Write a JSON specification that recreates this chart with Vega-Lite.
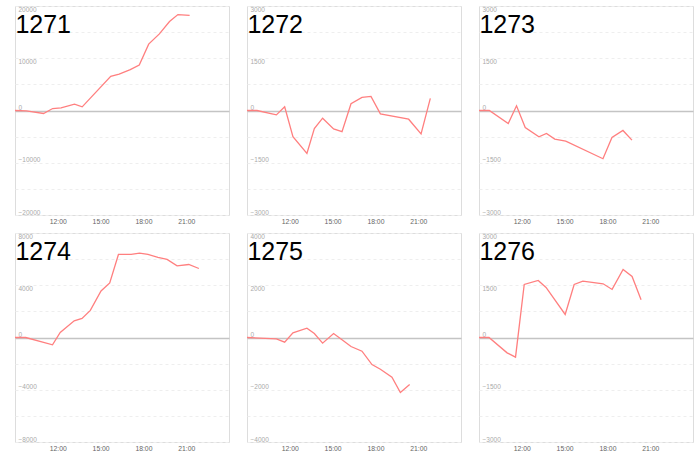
{
  "$schema": "https://vega.github.io/schema/vega-lite/v6.json",
  "padding": {"left": 11, "top": 5, "right": 5, "bottom": 2},
  "background": "white",
  "datasets": {
    "d": [
      {"id": "1271", "t": 9.0, "v": 0}, {"id": "1271", "t": 9.8, "v": -60}, {"id": "1271", "t": 11.0, "v": -570}, {"id": "1271", "t": 11.64, "v": 380}, {"id": "1271", "t": 12.23, "v": 510}, {"id": "1271", "t": 13.17, "v": 1200}, {"id": "1271", "t": 13.71, "v": 700}, {"id": "1271", "t": 15.71, "v": 6540}, {"id": "1271", "t": 16.3, "v": 6980}, {"id": "1271", "t": 17.08, "v": 7810}, {"id": "1271", "t": 17.71, "v": 8700}, {"id": "1271", "t": 18.37, "v": 12700}, {"id": "1271", "t": 19.12, "v": 14670}, {"id": "1271", "t": 19.83, "v": 17020}, {"id": "1271", "t": 20.42, "v": 18350}, {"id": "1271", "t": 21.24, "v": 18220},
      {"id": "1272", "t": 9.0, "v": 0}, {"id": "1272", "t": 9.7, "v": 0}, {"id": "1272", "t": 11.06, "v": -125}, {"id": "1272", "t": 11.64, "v": 106}, {"id": "1272", "t": 12.22, "v": -750}, {"id": "1272", "t": 13.2, "v": -1230}, {"id": "1272", "t": 13.72, "v": -520}, {"id": "1272", "t": 14.3, "v": -220}, {"id": "1272", "t": 15.07, "v": -530}, {"id": "1272", "t": 15.66, "v": -607}, {"id": "1272", "t": 16.29, "v": 193}, {"id": "1272", "t": 17.06, "v": 375}, {"id": "1272", "t": 17.69, "v": 404}, {"id": "1272", "t": 18.35, "v": -96}, {"id": "1272", "t": 20.33, "v": -250}, {"id": "1272", "t": 21.2, "v": -674}, {"id": "1272", "t": 21.85, "v": 347},
      {"id": "1273", "t": 9.0, "v": 0}, {"id": "1273", "t": 9.72, "v": 0}, {"id": "1273", "t": 11.05, "v": -372}, {"id": "1273", "t": 11.63, "v": 134}, {"id": "1273", "t": 12.24, "v": -487}, {"id": "1273", "t": 13.2, "v": -754}, {"id": "1273", "t": 13.73, "v": -659}, {"id": "1273", "t": 14.31, "v": -821}, {"id": "1273", "t": 15.08, "v": -879}, {"id": "1273", "t": 17.69, "v": -1385}, {"id": "1273", "t": 18.32, "v": -774}, {"id": "1273", "t": 19.09, "v": -573}, {"id": "1273", "t": 19.72, "v": -850},
      {"id": "1274", "t": 9.0, "v": 0}, {"id": "1274", "t": 9.75, "v": 0}, {"id": "1274", "t": 11.63, "v": -564}, {"id": "1274", "t": 12.17, "v": 385}, {"id": "1274", "t": 13.15, "v": 1282}, {"id": "1274", "t": 13.7, "v": 1461}, {"id": "1274", "t": 14.28, "v": 2077}, {"id": "1274", "t": 15.03, "v": 3564}, {"id": "1274", "t": 15.64, "v": 4179}, {"id": "1274", "t": 16.25, "v": 6359}, {"id": "1274", "t": 17.14, "v": 6359}, {"id": "1274", "t": 17.73, "v": 6461}, {"id": "1274", "t": 18.32, "v": 6359}, {"id": "1274", "t": 19.02, "v": 6128}, {"id": "1274", "t": 19.66, "v": 5974}, {"id": "1274", "t": 20.36, "v": 5487}, {"id": "1274", "t": 21.18, "v": 5590}, {"id": "1274", "t": 21.89, "v": 5282},
      {"id": "1275", "t": 9.0, "v": 0}, {"id": "1275", "t": 11.06, "v": -51}, {"id": "1275", "t": 11.64, "v": -179}, {"id": "1275", "t": 12.22, "v": 179}, {"id": "1275", "t": 13.2, "v": 358}, {"id": "1275", "t": 13.72, "v": 153}, {"id": "1275", "t": 14.3, "v": -217}, {"id": "1275", "t": 15.07, "v": 153}, {"id": "1275", "t": 15.66, "v": -89}, {"id": "1275", "t": 16.29, "v": -345}, {"id": "1275", "t": 17.06, "v": -524}, {"id": "1275", "t": 17.76, "v": -1035}, {"id": "1275", "t": 18.35, "v": -1214}, {"id": "1275", "t": 19.16, "v": -1521}, {"id": "1275", "t": 19.75, "v": -2109}, {"id": "1275", "t": 20.4, "v": -1802},
      {"id": "1276", "t": 9.0, "v": 0}, {"id": "1276", "t": 9.7, "v": 0}, {"id": "1276", "t": 10.97, "v": -441}, {"id": "1276", "t": 11.56, "v": -565}, {"id": "1276", "t": 12.17, "v": 1523}, {"id": "1276", "t": 13.15, "v": 1638}, {"id": "1276", "t": 13.7, "v": 1437}, {"id": "1276", "t": 15.04, "v": 661}, {"id": "1276", "t": 15.67, "v": 1523}, {"id": "1276", "t": 16.28, "v": 1619}, {"id": "1276", "t": 17.7, "v": 1542}, {"id": "1276", "t": 18.33, "v": 1380}, {"id": "1276", "t": 19.1, "v": 1954}, {"id": "1276", "t": 19.73, "v": 1753}, {"id": "1276", "t": 20.36, "v": 1083}
    ]
  },
  "data": {"name": "d"},
  "config": {
    "font": "Liberation Sans",
    "view": {"stroke": "#dddddd", "strokeWidth": 1},
    "title": {"anchor": "start", "offset": -32, "dx": 3, "fontSize": 25, "fontWeight": "normal", "color": "#000000", "font": "Liberation Sans", "baseline": "alphabetic"},
    "axisX": {"domain": false, "ticks": false, "grid": false, "labelFontSize": 6.8, "labelColor": "#666666", "labelPadding": 3, "title": null},
    "axisY": {
      "domain": false, "ticks": false, "tickSize": 0, "title": null,
      "labelAlign": "left", "labelPadding": -3, "labelFontSize": 6.5, "labelColor": "#aaaaaa",
      "labelOverlap": false, "labelFlush": false, "format": "d",
      "labelBaseline": {"condition": {"test": "datum.value > 0", "value": "top"}, "value": "bottom"},
      "gridColor": {"condition": {"test": "datum.value == 0", "value": "#c4c4c4"}, "value": "#eeeeee"},
      "gridDash": {"condition": {"test": "datum.value == 0", "value": []}, "value": [3, 3]},
      "gridWidth": {"condition": {"test": "datum.value == 0", "value": 1.6}, "value": 1}
    }
  },
  "columns": 3,
  "bounds": "flush",
  "spacing": {"row": 18, "column": 18},
  "concat": [
    {
      "width": 214, "height": 209, "title": "1271",
      "transform": [{"filter": "datum.id == '1271'"}],
      "mark": {"type": "line", "color": "#ff7f7f", "strokeWidth": 1.3},
      "encoding": {
        "x": {"field": "t", "type": "quantitative", "scale": {"domain": [9, 24]}, "axis": {"values": [12, 15, 18, 21], "labelExpr": "datum.value + ':00'"}},
        "y": {"field": "v", "type": "quantitative", "scale": {"domain": [-20000, 20000]}, "axis": {"values": [-20000, -15000, -10000, -5000, 0, 5000, 10000, 15000, 20000], "labelExpr": "datum.value % 10000 == 0 ? datum.label : ''"}}
      }
    },
    {
      "width": 214, "height": 209, "title": "1272",
      "transform": [{"filter": "datum.id == '1272'"}],
      "mark": {"type": "line", "color": "#ff7f7f", "strokeWidth": 1.3},
      "encoding": {
        "x": {"field": "t", "type": "quantitative", "scale": {"domain": [9, 24]}, "axis": {"values": [12, 15, 18, 21], "labelExpr": "datum.value + ':00'"}},
        "y": {"field": "v", "type": "quantitative", "scale": {"domain": [-3000, 3000]}, "axis": {"values": [-3000, -2250, -1500, -750, 0, 750, 1500, 2250, 3000], "labelExpr": "datum.value % 1500 == 0 ? datum.label : ''"}}
      }
    },
    {
      "width": 214, "height": 209, "title": "1273",
      "transform": [{"filter": "datum.id == '1273'"}],
      "mark": {"type": "line", "color": "#ff7f7f", "strokeWidth": 1.3},
      "encoding": {
        "x": {"field": "t", "type": "quantitative", "scale": {"domain": [9, 24]}, "axis": {"values": [12, 15, 18, 21], "labelExpr": "datum.value + ':00'"}},
        "y": {"field": "v", "type": "quantitative", "scale": {"domain": [-3000, 3000]}, "axis": {"values": [-3000, -2250, -1500, -750, 0, 750, 1500, 2250, 3000], "labelExpr": "datum.value % 1500 == 0 ? datum.label : ''"}}
      }
    },
    {
      "width": 214, "height": 209, "title": "1274",
      "transform": [{"filter": "datum.id == '1274'"}],
      "mark": {"type": "line", "color": "#ff7f7f", "strokeWidth": 1.3},
      "encoding": {
        "x": {"field": "t", "type": "quantitative", "scale": {"domain": [9, 24]}, "axis": {"values": [12, 15, 18, 21], "labelExpr": "datum.value + ':00'"}},
        "y": {"field": "v", "type": "quantitative", "scale": {"domain": [-8000, 8000]}, "axis": {"values": [-8000, -6000, -4000, -2000, 0, 2000, 4000, 6000, 8000], "labelExpr": "datum.value % 4000 == 0 ? datum.label : ''"}}
      }
    },
    {
      "width": 214, "height": 209, "title": "1275",
      "transform": [{"filter": "datum.id == '1275'"}],
      "mark": {"type": "line", "color": "#ff7f7f", "strokeWidth": 1.3},
      "encoding": {
        "x": {"field": "t", "type": "quantitative", "scale": {"domain": [9, 24]}, "axis": {"values": [12, 15, 18, 21], "labelExpr": "datum.value + ':00'"}},
        "y": {"field": "v", "type": "quantitative", "scale": {"domain": [-4000, 4000]}, "axis": {"values": [-4000, -3000, -2000, -1000, 0, 1000, 2000, 3000, 4000], "labelExpr": "datum.value % 2000 == 0 ? datum.label : ''"}}
      }
    },
    {
      "width": 214, "height": 209, "title": "1276",
      "transform": [{"filter": "datum.id == '1276'"}],
      "mark": {"type": "line", "color": "#ff7f7f", "strokeWidth": 1.3},
      "encoding": {
        "x": {"field": "t", "type": "quantitative", "scale": {"domain": [9, 24]}, "axis": {"values": [12, 15, 18, 21], "labelExpr": "datum.value + ':00'"}},
        "y": {"field": "v", "type": "quantitative", "scale": {"domain": [-3000, 3000]}, "axis": {"values": [-3000, -2250, -1500, -750, 0, 750, 1500, 2250, 3000], "labelExpr": "datum.value % 1500 == 0 ? datum.label : ''"}}
      }
    }
  ]
}
